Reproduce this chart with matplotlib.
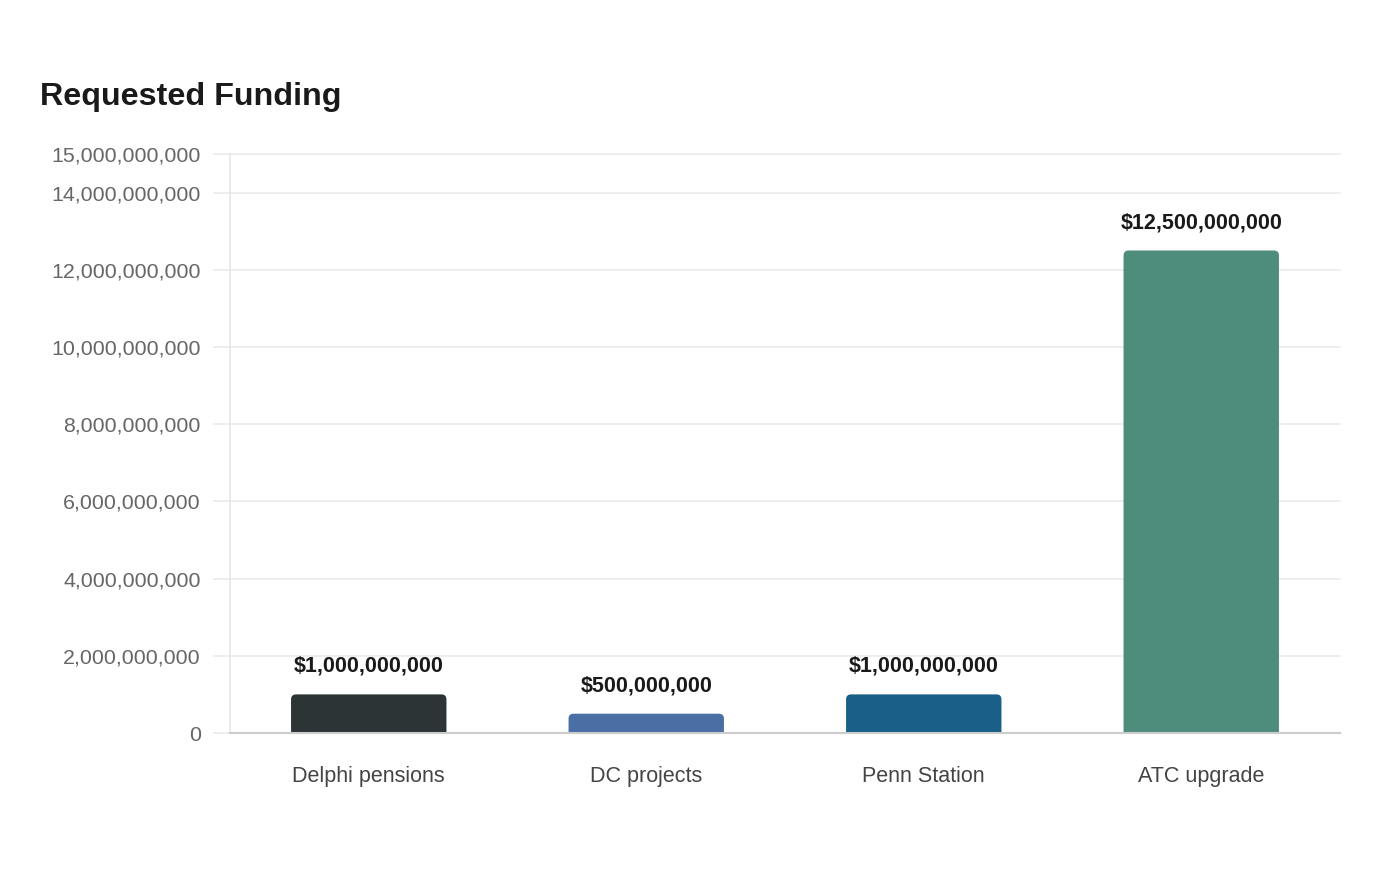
import numpy as np
import matplotlib.pyplot as plt
from matplotlib.patches import FancyBboxPatch
from matplotlib.ticker import FuncFormatter

plt.rcParams['font.family'] = ['Liberation Sans', 'DejaVu Sans']

categories = ['Delphi pensions', 'DC projects', 'Penn Station', 'ATC upgrade']
funding = [1000000000, 500000000, 1000000000, 12500000000]
bar_colors = ['#2d3436', '#4a6fa5', '#1a5f87', '#4e8d7c']
yticks = [0, 2e9, 4e9, 6e9, 8e9, 10e9, 12e9, 14e9, 15e9]

fig = plt.figure(figsize=(14, 8.8), dpi=100)
ax = fig.add_axes([230/1400, 1 - 733/880, 1110/1400, 579/880])

ax.set_xlim(-0.5, len(categories) - 0.5)
ax.set_ylim(0, 15e9)

# rounded top corners: radius ~5 px, bottom part hidden below the axis
px_x = 4 / 1110
px_y = 15e9 / 579
r = 5
width = 0.56
x = np.arange(len(categories))
for xi, v, c in zip(x, funding, bar_colors):
    p = FancyBboxPatch((xi - width / 2, -r * px_y), width, v + r * px_y,
                       boxstyle=f"round,pad=0,rounding_size={r * px_x}",
                       mutation_aspect=px_y / px_x,
                       facecolor=c, edgecolor='none', zorder=3)
    ax.add_patch(p)
    ax.text(xi, v + 28 * px_y, '${:,.0f}'.format(v), ha='center', va='center',
            fontsize=15.5, fontweight='bold', color='#1a1a1a', zorder=4)

ax.set_xticks(x)
ax.set_xticklabels(categories, fontsize=15.5, color='#444444')
ax.tick_params(axis='x', length=0, pad=24)

ax.set_yticks(yticks)
ax.yaxis.set_major_formatter(FuncFormatter(lambda v, p: '{:,.0f}'.format(v)))
ax.tick_params(axis='y', length=12, width=1.2, color='#ebebeb', pad=9,
               labelsize=15.4, labelcolor='#666666')
ax.grid(axis='y', color='#ebebeb', linewidth=1.2, zorder=0)
for gl in ax.get_ygridlines():
    gl.set_clip_on(False)
ax.set_axisbelow(True)

for s in ['top', 'right']:
    ax.spines[s].set_visible(False)
ax.spines['left'].set_color('#e6e6e6')
ax.spines['left'].set_linewidth(1.2)
ax.spines['bottom'].set_color('#cccccc')
ax.spines['bottom'].set_linewidth(1.5)
ax.spines['bottom'].set_zorder(5)

fig.text(40/1400, 1 - 97/880, 'Requested Funding', fontsize=23.2, fontweight='bold',
         color='#1a1a1a', ha='left', va='center')

fig.savefig('out.png', dpi=100, facecolor='white')
